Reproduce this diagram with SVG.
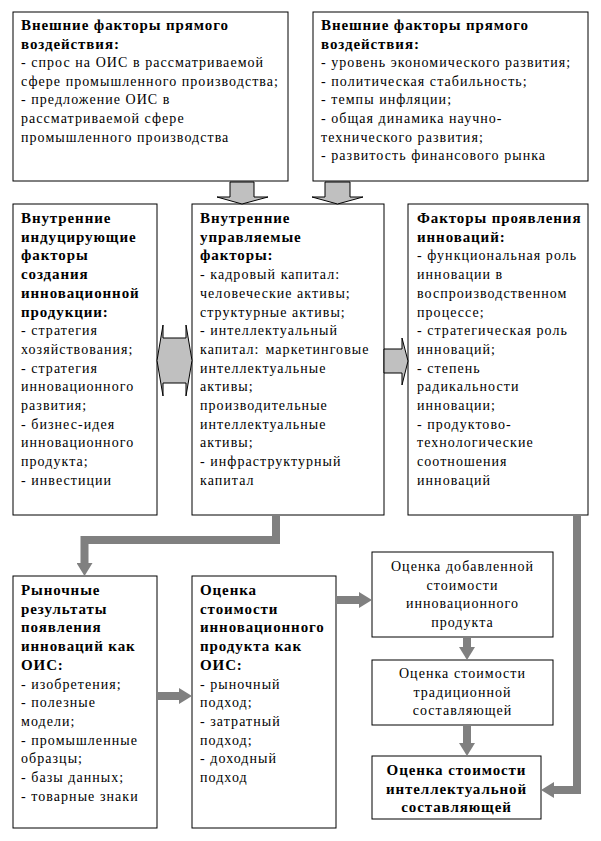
<svg xmlns="http://www.w3.org/2000/svg" width="601" height="841" viewBox="0 0 601 841" font-family="Liberation Serif, Times New Roman, serif">
<style>
.box{fill:#fff;stroke:#000;stroke-width:1}
text{font-family:'Liberation Serif','Times New Roman',serif;font-size:14px;fill:#000;letter-spacing:1.05px}
.b{font-weight:bold;font-size:15px;letter-spacing:0.9px}
.c{text-anchor:middle}
.blk{fill:#c0c0c0;stroke:#000;stroke-width:1}
.con{fill:none;stroke:#808080;stroke-width:8;marker-end:url(#ah)}
</style>
<defs>
<marker id="ah" viewBox="0 0 13 16" refX="0" refY="8" markerWidth="13" markerHeight="16" markerUnits="userSpaceOnUse" orient="auto">
<path d="M0,0 L13,8 L0,16 Z" fill="#808080"/>
</marker>
</defs>
<rect width="601" height="841" fill="#fff"/>

<g id="ext1">
<rect class="box" x="13" y="12" width="275" height="169"/>
<text x="21" y="30"><tspan class="b" x="21" y="30">Внешние факторы прямого</tspan><tspan class="b" x="21" y="48.6">воздействия:</tspan><tspan x="21" y="67.2">- спрос на ОИС в рассматриваемой</tspan><tspan x="21" y="85.8">сфере промышленного производства;</tspan><tspan x="21" y="104.4">- предложение ОИС в</tspan><tspan x="21" y="123">рассматриваемой сфере</tspan><tspan x="21" y="141.6">промышленного производства</tspan></text>
</g>

<g id="ext2">
<rect class="box" x="313" y="12" width="275" height="169"/>
<text x="321" y="30"><tspan class="b" x="321" y="30">Внешние факторы прямого</tspan><tspan class="b" x="321" y="48.6">воздействия:</tspan><tspan x="321" y="67.2">- уровень экономического развития;</tspan><tspan x="321" y="85.8">- политическая стабильность;</tspan><tspan x="321" y="104.4">- темпы инфляции;</tspan><tspan x="321" y="123">- общая динамика научно-</tspan><tspan x="321" y="141.6">технического развития;</tspan><tspan x="321" y="160.2">- развитость финансового рынка</tspan></text>
</g>

<g id="int-induce">
<rect class="box" x="13" y="204" width="144" height="311"/>
<text x="21" y="223"><tspan class="b" x="21" y="223">Внутренние</tspan><tspan class="b" x="21" y="241.7">индуцирующие</tspan><tspan class="b" x="21" y="260.4">факторы</tspan><tspan class="b" x="21" y="279.1">создания</tspan><tspan class="b" x="21" y="297.8">инновационной</tspan><tspan class="b" x="21" y="316.5">продукции:</tspan><tspan x="21" y="335.2">- стратегия</tspan><tspan x="21" y="353.9">хозяйствования;</tspan><tspan x="21" y="372.6">- стратегия</tspan><tspan x="21" y="391.3">инновационного</tspan><tspan x="21" y="410">развития;</tspan><tspan x="21" y="428.7">- бизнес-идея</tspan><tspan x="21" y="447.4">инновационного</tspan><tspan x="21" y="466.1">продукта;</tspan><tspan x="21" y="484.8">- инвестиции</tspan></text>
</g>

<g id="int-managed">
<rect class="box" x="192" y="204" width="192" height="311"/>
<text x="200" y="223"><tspan class="b" x="200" y="223">Внутренние</tspan><tspan class="b" x="200" y="241.7">управляемые</tspan><tspan class="b" x="200" y="260.4">факторы:</tspan><tspan x="200" y="279.1">- кадровый капитал:</tspan><tspan x="200" y="297.8">человеческие активы;</tspan><tspan x="200" y="316.5">структурные активы;</tspan><tspan x="200" y="335.2">- интеллектуальный</tspan><tspan x="200" y="353.9">капитал:</tspan><tspan dx="6">маркетинговые</tspan><tspan x="200" y="372.6">интеллектуальные</tspan><tspan x="200" y="391.3">активы;</tspan><tspan x="200" y="410">производительные</tspan><tspan x="200" y="428.7">интеллектуальные</tspan><tspan x="200" y="447.4">активы;</tspan><tspan x="200" y="466.1">- инфраструктурный</tspan><tspan x="200" y="484.8">капитал</tspan></text>
</g>

<g id="innov-factors">
<rect class="box" x="408" y="204" width="180" height="311"/>
<text x="417" y="223"><tspan class="b" x="417" y="223">Факторы проявления</tspan><tspan class="b" x="417" y="241.7">инноваций:</tspan><tspan x="417" y="260.4">- функциональная роль</tspan><tspan x="417" y="279.1">инновации в</tspan><tspan x="417" y="297.8">воспроизводственном</tspan><tspan x="417" y="316.5">процессе;</tspan><tspan x="417" y="335.2">- стратегическая роль</tspan><tspan x="417" y="353.9">инноваций;</tspan><tspan x="417" y="372.6">- степень</tspan><tspan x="417" y="391.3">радикальности</tspan><tspan x="417" y="410">инновации;</tspan><tspan x="417" y="428.7">- продуктово-</tspan><tspan x="417" y="447.4">технологические</tspan><tspan x="417" y="466.1">соотношения</tspan><tspan x="417" y="484.8">инноваций</tspan></text>
</g>

<g id="market-results">
<rect class="box" x="13" y="576" width="144" height="252"/>
<text x="21" y="595"><tspan class="b" x="21" y="595">Рыночные</tspan><tspan class="b" x="21" y="613.7">результаты</tspan><tspan class="b" x="21" y="632.4">появления</tspan><tspan class="b" x="21" y="651.1">инноваций как</tspan><tspan class="b" x="21" y="669.8">ОИС:</tspan><tspan x="21" y="688.5">- изобретения;</tspan><tspan x="21" y="707.2">- полезные</tspan><tspan x="21" y="725.9">модели;</tspan><tspan x="21" y="744.6">- промышленные</tspan><tspan x="21" y="763.3">образцы;</tspan><tspan x="21" y="782">- базы данных;</tspan><tspan x="21" y="800.7">- товарные знаки</tspan></text>
</g>

<g id="valuation">
<rect class="box" x="192" y="576" width="144" height="252"/>
<text x="200" y="595"><tspan class="b" x="200" y="595">Оценка</tspan><tspan class="b" x="200" y="613.7">стоимости</tspan><tspan class="b" x="200" y="632.4">инновационного</tspan><tspan class="b" x="200" y="651.1">продукта как</tspan><tspan class="b" x="200" y="669.8">ОИС:</tspan><tspan x="200" y="688.5">- рыночный</tspan><tspan x="200" y="707.2">подход;</tspan><tspan x="200" y="725.9">- затратный</tspan><tspan x="200" y="744.6">подход;</tspan><tspan x="200" y="763.3">- доходный</tspan><tspan x="200" y="782">подход</tspan></text>
</g>

<g id="added-value">
<rect class="box" x="372" y="552" width="181" height="85"/>
<text class="c" x="462.5" y="571"><tspan x="462.5" y="571">Оценка добавленной</tspan><tspan x="462.5" y="589.7">стоимости</tspan><tspan x="462.5" y="608.4">инновационного</tspan><tspan x="462.5" y="627.1">продукта</tspan></text>
</g>

<g id="traditional">
<rect class="box" x="372" y="660" width="181" height="65"/>
<text class="c" x="462.5" y="678"><tspan x="462.5" y="678">Оценка стоимости</tspan><tspan x="462.5" y="696.7">традиционной</tspan><tspan x="462.5" y="715.4">составляющей</tspan></text>
</g>

<g id="intellectual">
<rect class="box" x="372" y="756" width="169" height="63"/>
<text class="c b" x="456.5" y="775"><tspan x="456.5" y="775">Оценка стоимости</tspan><tspan x="456.5" y="793.7">интеллектуальной</tspan><tspan x="456.5" y="812.4">составляющей</tspan></text>
</g>

<g id="connectors">
<polygon class="blk" points="230,182 230,197 217,197 242,204 268,197 254,197 254,182"/>
<polygon class="blk" points="325,182 325,197 312,197 337.5,204 363,197 350,197 350,182"/>
<polygon class="blk" points="157,360.5 163,325 163,338 186,338 186,325 192,360.5 186,396 186,383 163,383 163,396"/>
<polygon class="blk" points="384,349 402,349 402,338 408,361 402,385 402,373 384,373"/>
<path class="con" d="M276,515 V540 H84.5 V563"/>
<path class="con" d="M157,696 H179"/>
<path class="con" d="M336,600 H359"/>
<path class="con" d="M467,637 V647"/>
<path class="con" d="M467,725 V743"/>
<path class="con" d="M577,515 V790 H554"/>
</g>
</svg>
